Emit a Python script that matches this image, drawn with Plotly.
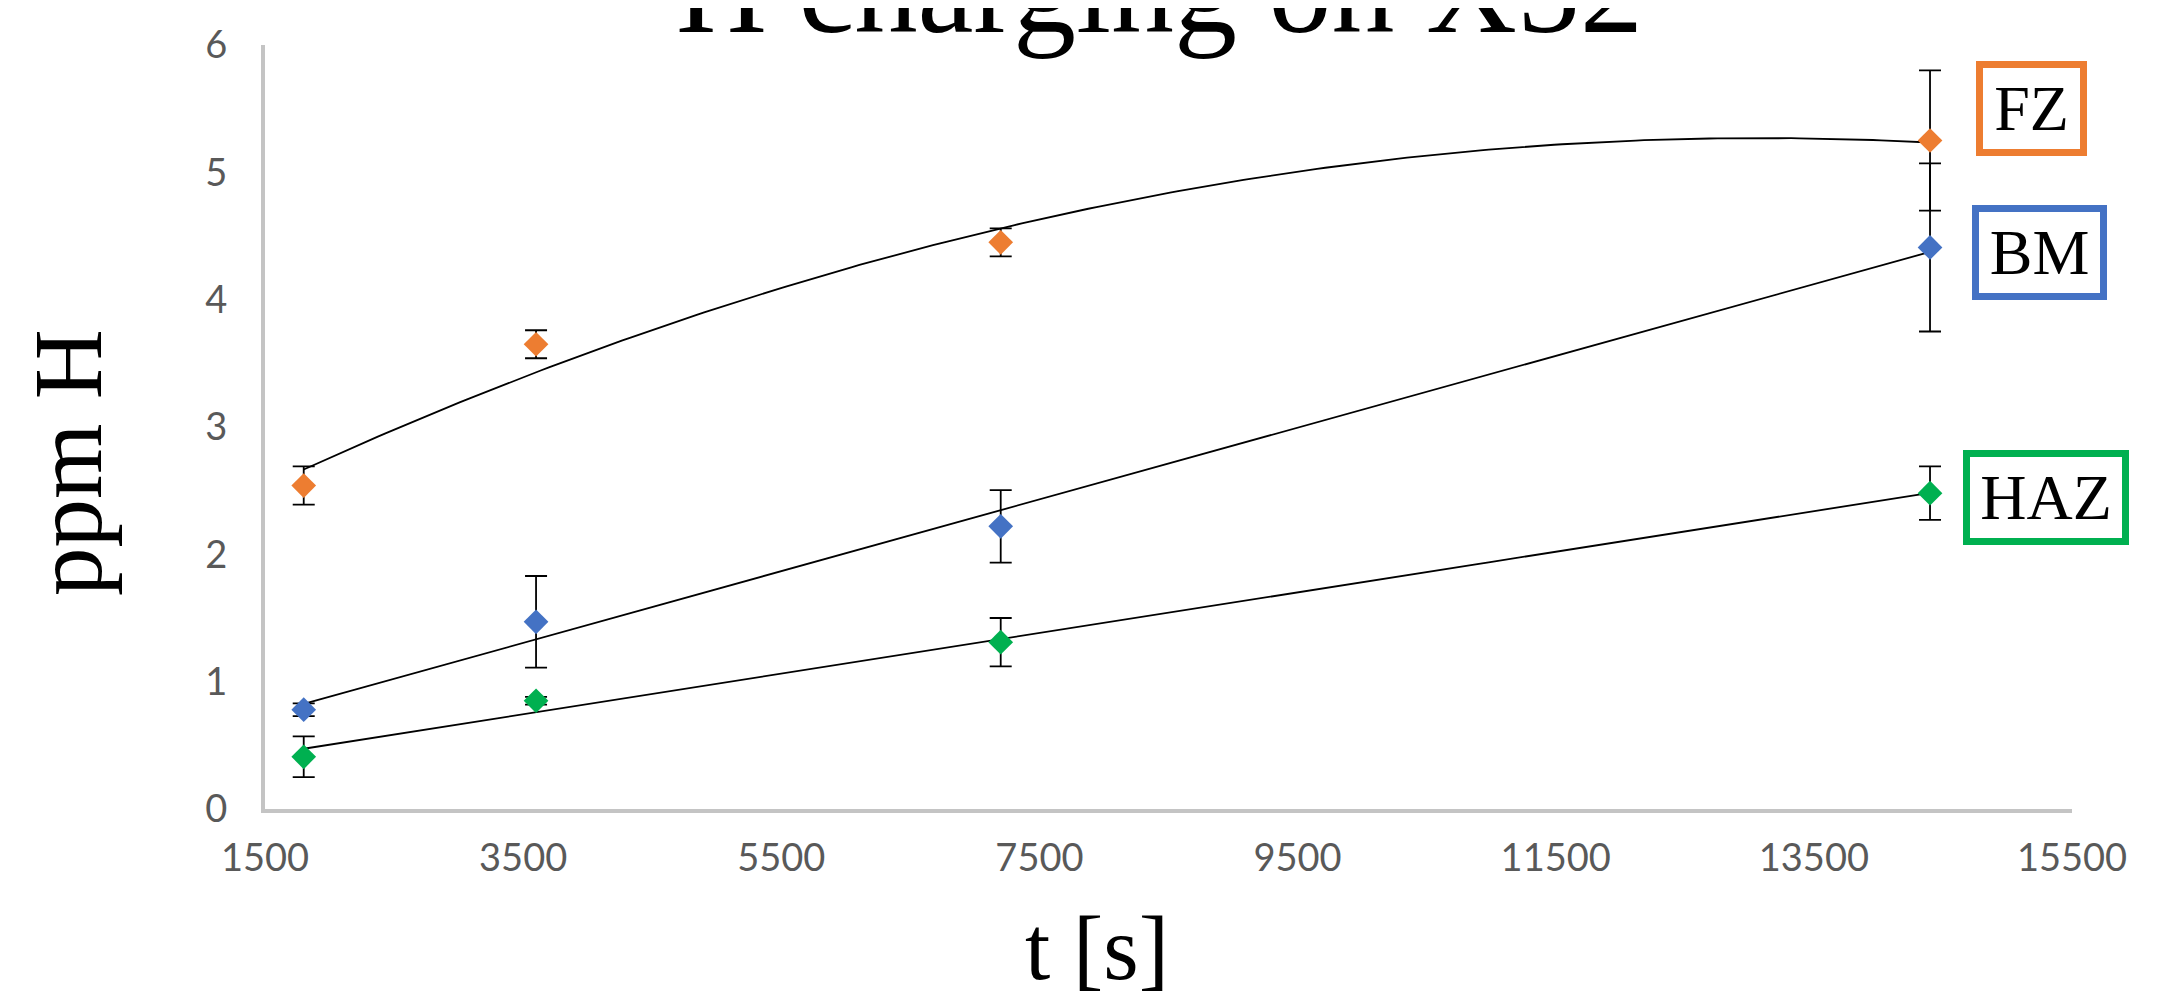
import numpy as np
import plotly.graph_objects as go

# ---- data ----
t_s = [1800, 3600, 7200, 14400]
fz = [2.54, 3.65, 4.45, 5.25]
fz_err = [0.15, 0.11, 0.11, 0.55]
bm = [0.78, 1.47, 2.22, 4.41]
bm_err = [0.05, 0.36, 0.285, 0.66]
haz = [0.41, 0.85, 1.31, 2.48]
haz_err = [0.16, 0.03, 0.19, 0.21]

series_names = ["FZ", "BM", "HAZ"]
series_colors = ["#ED7D31", "#4472C4", "#00B050"]
trend_degree = [2, 1, 1]

x_tickvals = [1500, 3500, 5500, 7500, 9500, 11500, 13500, 15500]
x_ticktext = ["1500", "3500", "5500", "7500", "9500", "11500", "13500", "15500"]
y_tickvals = [0, 1, 2, 3, 4, 5, 6]
y_ticktext = ["0", "1", "2", "3", "4", "5", "6"]

title_text = "H charging on X52"
x_title = "t [s]"
y_title = "ppm H"

# ---- layout geometry (page offset: default 8px body margin) ----
W, H = 2176, 997
OFF = 8
ML, MR, MT, MB = 257, 112, 37, 196
PW, PH = W - ML - MR, H - MT - MB


def px_x(page_x):
    return (page_x - OFF - ML) / PW


def px_y(page_y):
    return (H - MB - (page_y - OFF)) / PH


fig = go.Figure()

values = [fz, bm, haz]
errors = [fz_err, bm_err, haz_err]

# trendlines (regressions of each series, as in the original)
for vals, deg in zip(values, trend_degree):
    coef = np.polyfit(t_s, vals, deg)
    xs = np.linspace(min(t_s), max(t_s), 200)
    fig.add_trace(go.Scatter(
        x=xs, y=np.polyval(coef, xs), mode="lines",
        line=dict(color="#000000", width=1.8),
        hoverinfo="skip", showlegend=False,
    ))

for name, vals, err, col in zip(series_names, values, errors, series_colors):
    fig.add_trace(go.Scatter(
        x=t_s, y=vals, mode="markers", name=name,
        marker=dict(symbol="diamond", size=19, color=col, line=dict(width=0)),
        error_y=dict(type="data", array=err, visible=True, color="#000000",
                     thickness=1.8, width=11),
        showlegend=False,
    ))

tick_font = dict(family="Lato", size=38, color="#595959")
fig.update_layout(
    width=W, height=H,
    margin=dict(l=ML, r=MR, t=MT, b=MB, pad=0),
    paper_bgcolor="white", plot_bgcolor="white",
    showlegend=False,
    xaxis=dict(range=[1500, 15500], tickvals=x_tickvals, ticktext=x_ticktext,
               showgrid=False, zeroline=False, showline=True,
               linecolor="#C4C4C4", linewidth=4,
               ticks="", ticklabelstandoff=12, tickfont=tick_font),
    yaxis=dict(range=[0, 6], tickvals=y_tickvals, ticktext=y_ticktext,
               showgrid=False, zeroline=False, showline=True,
               linecolor="#C4C4C4", linewidth=4,
               ticks="", ticklabelstandoff=26, tickfont=tick_font),
)

serif = "Liberation Serif, Times New Roman, serif"
annotations = [
    dict(text=title_text, x=px_x(1159), y=px_y(60), xanchor="center", yanchor="bottom",
         borderpad=0, font=dict(family=serif, size=126, color="black")),
    dict(text=y_title, x=px_x(68), y=px_y(463), xanchor="center", yanchor="middle",
         textangle=-90, borderpad=0, font=dict(family=serif, size=97, color="black")),
    dict(text=x_title, x=px_x(1097), y=px_y(948), xanchor="center", yanchor="middle",
         borderpad=0, font=dict(family=serif, size=91, color="black")),
]

box_centers = [(2031, 109), (2039, 252), (2046, 497)]
box_widths = [97, 121, 152]
for name, col, (cx, cy), bw in zip(series_names, series_colors, box_centers, box_widths):
    annotations.append(dict(
        text=name, x=px_x(cx), y=px_y(cy), xanchor="center", yanchor="middle",
        width=bw, height=81, borderwidth=7, borderpad=0, bordercolor=col,
        bgcolor="white", font=dict(family=serif, size=64, color="black"),
    ))

for a in annotations:
    a.update(xref="paper", yref="paper", showarrow=False)
fig.update_layout(annotations=annotations)

fig.write_html("out.html")
